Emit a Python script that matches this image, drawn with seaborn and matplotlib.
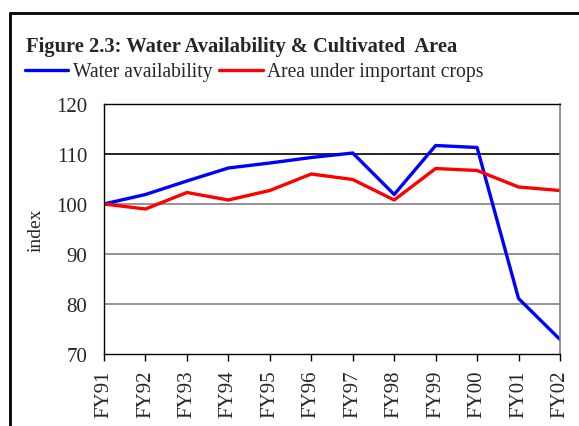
import pandas as pd
import matplotlib
matplotlib.use("Agg")
import matplotlib.pyplot as plt
from matplotlib.lines import Line2D
import seaborn as sns

years = ["FY91", "FY92", "FY93", "FY94", "FY95", "FY96",
         "FY97", "FY98", "FY99", "FY00", "FY01", "FY02"]
water = [100.0, 101.9, 104.6, 107.2, 108.2, 109.3,
         110.2, 101.9, 111.7, 111.3, 81.1, 72.9]
area = [100.0, 99.0, 102.3, 100.8, 102.7, 106.0,
        104.9, 100.8, 107.1, 106.7, 103.4, 102.7]

sns.set_style("white")
plt.rcParams['font.family'] = ['Liberation Serif', 'DejaVu Serif']

fig = plt.figure(figsize=(5.79, 4.27), dpi=100)
ax = fig.add_axes([104 / 579, 1 - 355 / 427, 456 / 579, 250 / 427])

df = pd.DataFrame({"year": years, "Water availability": water,
                   "Area under important crops": area})
sns.lineplot(data=df, x="year", y="Water availability", color="#0000ff",
             lw=2.4, ax=ax, legend=False)
sns.lineplot(data=df, x="year", y="Area under important crops", color="#ff0000",
             lw=2.4, ax=ax, legend=False)

ax.set_ylim(70, 120)
ax.set_yticks([70, 80, 90, 100, 110, 120])
ax.set_xlim(0, len(years) - 1)
for v in [80, 90, 100]:
    ax.axhline(v, color="#808080", lw=1.2, zorder=0)
ax.axhline(110, color="black", lw=1.2, zorder=0)

ax.set_xlabel("")
ax.set_ylabel("index", fontsize=14, labelpad=8)
ax.tick_params(axis="y", length=0, labelsize=15, pad=12)
ax.tick_params(axis="x", length=5, width=1, color="black", labelsize=15,
               rotation=90, bottom=True, direction="out", pad=6)
for s in ["left", "top", "bottom"]:
    ax.spines[s].set_color("black")
    ax.spines[s].set_linewidth(1)
ax.spines["right"].set_color("#808080")
ax.spines["right"].set_linewidth(1.2)

fig.text(26 / 579, 1 - 47 / 427, "Figure 2.3: Water Availability & Cultivated  Area",
         fontsize=14.8, fontweight="bold", va="center", ha="left")

handles = [Line2D([], [], color="#0000ff", lw=2.4), Line2D([], [], color="#ff0000", lw=2.4)]
fig.legend(handles, ["Water availability", "Area under important crops"],
           loc="center left", bbox_to_anchor=(25 / 579, 1 - 73 / 427),
           ncol=2, frameon=False, fontsize=14.1, handlelength=2.2,
           handletextpad=0.25, columnspacing=0.35, borderpad=0, borderaxespad=0)

# outer frame (left and top edges visible)
fig.add_artist(Line2D([10 / 579, 10 / 579], [0, 1 - 14 / 427], color="black",
                      lw=2, transform=fig.transFigure))
fig.add_artist(Line2D([10 / 579, 1], [1 - 14 / 427, 1 - 14 / 427], color="black",
                      lw=2, transform=fig.transFigure))

fig.savefig("out.png", dpi=100)
